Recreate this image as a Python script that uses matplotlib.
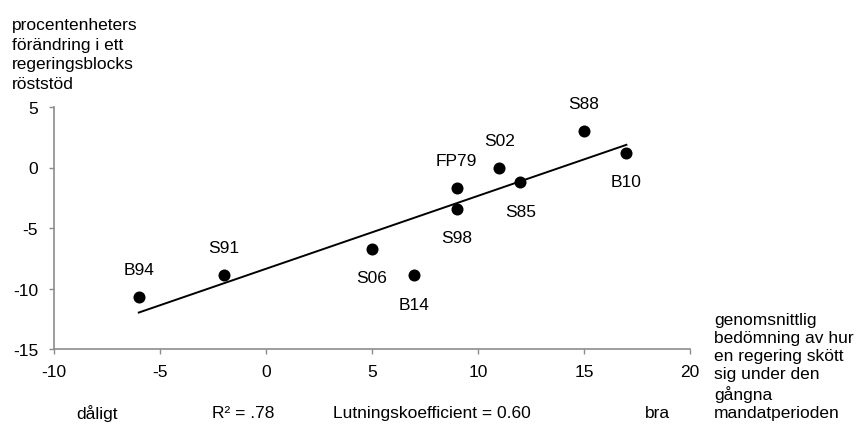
import numpy as np
import matplotlib
matplotlib.use("Agg")
import matplotlib.pyplot as plt

plt.rcParams['font.family'] = ['Liberation Sans', 'DejaVu Sans']
plt.rcParams['axes.unicode_minus'] = False

labels = ["B94", "S91", "S06", "B14", "FP79", "S98", "S02", "S85", "S88", "B10"]
x_vals = [-6, -2, 5, 7, 9, 9, 11, 12, 15, 17]
y_vals = [-10.7, -8.9, -6.7, -8.9, -1.7, -3.4, 0.0, -1.2, 3.0, 1.2]
label_pos = ["above", "above", "below", "below", "above", "below", "above", "below", "above", "below"]
x_ticks = [-10, -5, 0, 5, 10, 15, 20]
y_ticks = [-15, -10, -5, 0, 5]

fig = plt.figure(figsize=(8.65, 4.35), dpi=100)
ax = fig.add_axes([54/865, 1-350/435, (690-54)/865, (350-108)/435])

ax.scatter(x_vals, y_vals, s=75, color='black', zorder=3, linewidths=0)
slope, intercept = np.polyfit(x_vals, y_vals, 1)
xl = np.array([min(x_vals), max(x_vals)])
ax.plot(xl, slope*xl + intercept, color='black', lw=1.4, zorder=2)

fs = 12.5
for lab, x, y, pos in zip(labels, x_vals, y_vals, label_pos):
    dy = 27.5 if pos == "above" else -29
    ax.annotate(lab, (x, y), xytext=(0, dy*0.72), textcoords='offset points',
                ha='center', va='center', fontsize=fs)

ax.set_xlim(-10, 20)
ax.set_ylim(-15, 5)
ax.set_xticks(x_ticks)
ax.set_yticks(y_ticks)
ax.tick_params(labelsize=fs, colors='#8c8c8c', labelcolor='black', length=3.5, width=1)
ax.tick_params(axis='x', pad=7.5)
ax.tick_params(axis='y', pad=8)
for s in ['top', 'right']:
    ax.spines[s].set_visible(False)
for s in ['left', 'bottom']:
    ax.spines[s].set_color('#8c8c8c')
    ax.spines[s].set_linewidth(1.2)

fig.text(12/865, 1-55/435, "procentenheters\nförändring i ett\nregeringsblocks\nröststöd",
         ha='left', va='center', fontsize=fs, linespacing=1.4)
fig.text(714/865, 1-367/435, "genomsnittlig\nbedömning av hur\nen regering skött\nsig under den\ngångna\nmandatperioden",
         ha='left', va='center', fontsize=fs, linespacing=1.27)

yb = 1-414/435
fig.text(97/865, yb, "dåligt", ha='center', va='center', fontsize=fs)
fig.text(243/865, yb, "R² = .78", ha='center', va='center', fontsize=fs)
fig.text(432/865, yb, "Lutningskoefficient = 0.60", ha='center', va='center', fontsize=fs)
fig.text(657/865, yb, "bra", ha='center', va='center', fontsize=fs)

fig.savefig("out.png", dpi=100)
